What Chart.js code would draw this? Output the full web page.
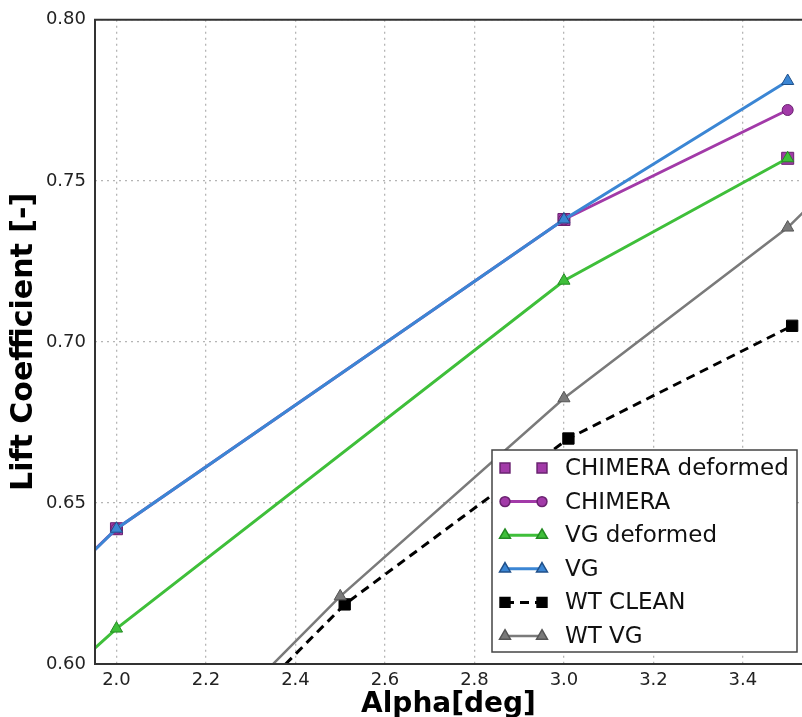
<!DOCTYPE html>
<html>
<head>
<meta charset="utf-8">
<script src="https://cdn.jsdelivr.net/npm/chart.js@4/dist/chart.umd.min.js"></script>
<style>
  html, body { margin: 0; padding: 0; background: #fff; overflow: hidden; }
  #chart { display: block; }
</style>
</head>
<body>
<canvas id="chart" width="802" height="717"></canvas>
<script>
// values (some points sit just outside the visible range)
const chimeraDefX = [2.0, 3.0, 3.5];
const chimeraDefY = [0.642, 0.738, 0.757];

const chimeraX = [1.5, 2.0, 3.0, 3.5];
const chimeraY = [0.575, 0.642, 0.738, 0.772];

const vgDefX = [1.5, 2.0, 3.0, 3.5];
const vgDefY = [0.548, 0.611, 0.719, 0.757];

const vgX = [1.5, 2.0, 3.0, 3.5];
const vgY = [0.574, 0.642, 0.738, 0.781];

const wtCleanX = [2.0, 2.51, 3.01, 3.51];
const wtCleanY = [0.547, 0.6185, 0.670, 0.705];

const wtVgX = [2.0, 2.5, 3.0, 3.5, 4.0];
const wtVgY = [0.551, 0.621, 0.6825, 0.7355, 0.804];

const xTicks = [2.0, 2.2, 2.4, 2.6, 2.8, 3.0, 3.2, 3.4];
const yTicks = [0.60, 0.65, 0.70, 0.75, 0.80];

const toPoints = (xs, ys) => xs.map((x, i) => ({ x: x, y: ys[i] }));

const purple = '#a23aa8';
const blue = '#3b86d4';
const green = '#3fbf3a';
const gray = '#7a7a7a';

const datasets = [
    {
        label: 'CHIMERA deformed',
        data: toPoints(chimeraDefX, chimeraDefY),
        showLine: false,
        pointStyle: 'rect', pointRadius: 8.5,
        backgroundColor: purple, borderColor: '#6a2270', pointBorderWidth: 1,
        order: 6
    },
    {
        label: 'CHIMERA',
        data: toPoints(chimeraX, chimeraY),
        showLine: true, borderColor: purple, borderWidth: 3,
        pointStyle: 'circle', pointRadius: 5.5,
        pointBackgroundColor: purple, pointBorderColor: '#6a2270', pointBorderWidth: 1,
        order: 5
    },
    {
        label: 'VG deformed',
        data: toPoints(vgDefX, vgDefY),
        showLine: true, borderColor: green, borderWidth: 3,
        pointStyle: 'triangle', pointRadius: 7,
        pointBackgroundColor: green, pointBorderColor: '#238a22', pointBorderWidth: 1,
        order: 4
    },
    {
        label: 'VG',
        data: toPoints(vgX, vgY),
        showLine: true, borderColor: blue, borderWidth: 3,
        pointStyle: 'triangle', pointRadius: 7,
        pointBackgroundColor: blue, pointBorderColor: '#20508a', pointBorderWidth: 1,
        order: 3
    },
    {
        label: 'WT CLEAN',
        data: toPoints(wtCleanX, wtCleanY),
        showLine: true, borderColor: '#000', borderWidth: 3, borderDash: [9, 6],
        pointStyle: 'rect', pointRadius: 8,
        pointBackgroundColor: '#000', pointBorderColor: '#000', pointBorderWidth: 1,
        order: 2
    },
    {
        label: 'WT VG',
        data: toPoints(wtVgX, wtVgY),
        showLine: true, borderColor: gray, borderWidth: 2.5,
        pointStyle: 'triangle', pointRadius: 7,
        pointBackgroundColor: gray, pointBorderColor: '#555', pointBorderWidth: 1,
        order: 1
    }
];

// frame: left, top and bottom spines like the original
const framePlugin = {
    id: 'frame',
    afterDatasetsDraw(chart) {
        const { ctx, chartArea: a } = chart;
        ctx.save();
        ctx.strokeStyle = '#333';
        ctx.lineWidth = 2;
        ctx.beginPath();
        ctx.moveTo(a.right + 2, a.top);
        ctx.lineTo(a.left, a.top);
        ctx.lineTo(a.left, a.bottom);
        ctx.lineTo(a.right + 2, a.bottom);
        ctx.stroke();
        ctx.restore();
    }
};

// legend box inside the plot, lower right, two markers per handle
const legendPlugin = {
    id: 'boxLegend',
    afterDraw(chart) {
        const { ctx, chartArea: a } = chart;
        const w = 305, h = 202;
        const x0 = a.right - 5 - w, y0 = a.bottom - 12 - h;
        ctx.save();
        ctx.fillStyle = '#fff';
        ctx.strokeStyle = '#444';
        ctx.lineWidth = 1.5;
        ctx.fillRect(x0, y0, w, h);
        ctx.strokeRect(x0, y0, w, h);

        ctx.font = '23px "DejaVu Sans", sans-serif';
        ctx.textBaseline = 'middle';
        chart.data.datasets.forEach((ds, i) => {
            const cy = y0 + 18 + i * 33.6;
            const hx1 = x0 + 13, hx2 = x0 + 50;
            if (ds.showLine) {
                ctx.save();
                ctx.strokeStyle = ds.borderColor;
                ctx.lineWidth = ds.borderWidth;
                ctx.setLineDash(ds.borderDash || []);
                ctx.beginPath();
                ctx.moveTo(hx1, cy);
                ctx.lineTo(hx2, cy);
                ctx.stroke();
                ctx.restore();
            }
            const opts = {
                pointStyle: ds.pointStyle,
                radius: ds.pointStyle === 'rect' ? 7 : ds.pointRadius * 0.9,
                borderWidth: 1,
                rotation: 0
            };
            ctx.fillStyle = ds.pointBackgroundColor || ds.backgroundColor;
            ctx.strokeStyle = ds.pointBorderColor || ds.borderColor;
            Chart.helpers.drawPoint(ctx, opts, hx1, cy);
            Chart.helpers.drawPoint(ctx, opts, hx2, cy);
            ctx.fillStyle = '#111';
            ctx.fillText(ds.label, x0 + 73, cy + 1);
        });
        ctx.restore();
    }
};

new Chart(document.getElementById('chart').getContext('2d'), {
    type: 'scatter',
    data: { datasets: datasets },
    options: {
        responsive: false,
        animation: false,
        layout: { autoPadding: false, padding: { top: 17, right: 0, left: 0, bottom: 0 } },
        plugins: { legend: { display: false }, tooltip: { enabled: false } },
        scales: {
            x: {
                type: 'linear',
                min: 1.952,
                max: 3.532,
                afterBuildTicks: (scale) => { scale.ticks = xTicks.map(v => ({ value: v })); },
                afterFit: (scale) => { scale.height = 53; scale.paddingRight = 0; },
                ticks: {
                    color: '#222',
                    font: { family: 'DejaVu Sans', size: 18 },
                    padding: 6,
                    maxRotation: 0,
                    callback: (v) => v.toFixed(1)
                },
                grid: { color: '#b5b5b5', lineWidth: 1.3, drawTicks: false },
                border: { display: false, dash: [2, 4] },
                title: {
                    display: true,
                    text: 'Alpha[deg]',
                    color: '#000',
                    font: { family: 'DejaVu Sans', size: 28, weight: 'bold' },
                    padding: { top: 0, bottom: -5 }
                }
            },
            y: {
                type: 'linear',
                min: 0.60,
                max: 0.80,
                afterBuildTicks: (scale) => { scale.ticks = yTicks.map(v => ({ value: v })); },
                afterFit: (scale) => { scale.width = 95; },
                ticks: {
                    color: '#222',
                    font: { family: 'DejaVu Sans', size: 18 },
                    padding: 9,
                    callback: (v) => v.toFixed(2)
                },
                grid: { color: '#b5b5b5', lineWidth: 1.3, drawTicks: false },
                border: { display: false, dash: [2, 4] },
                title: {
                    display: true,
                    text: 'Lift Coefficient [-]',
                    color: '#000',
                    font: { family: 'DejaVu Sans', size: 30, weight: 'bold' },
                    padding: { top: 6, bottom: 0 }
                }
            }
        }
    },
    plugins: [framePlugin, legendPlugin]
});
</script>
</body>
</html>
